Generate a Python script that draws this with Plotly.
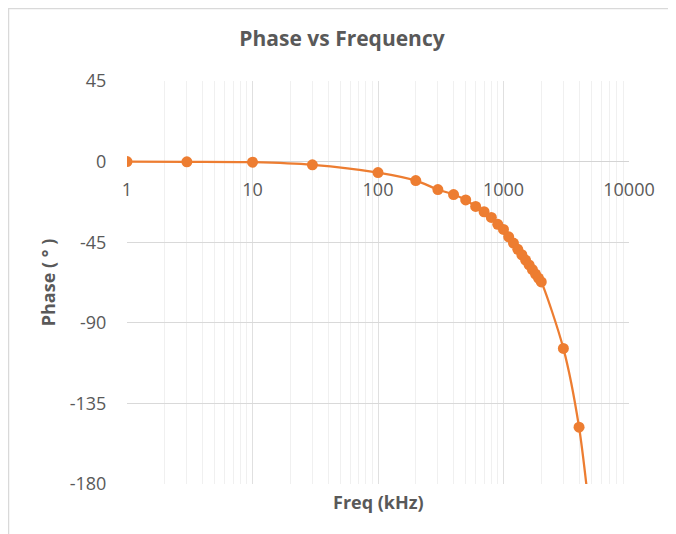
import plotly.graph_objects as go

freq_khz = [1, 3, 10, 30, 100, 200, 300, 400, 500, 600, 700, 800, 900, 1000,
            1100, 1200, 1300, 1400, 1500, 1600, 1700, 1800, 1900, 2000, 3000, 4000, 5000]
phase_deg = [0, -0.1, -0.3, -1.8, -6.1, -10.6, -15.6, -18.4, -21.4, -25.0, -28.0, -31.2,
             -35.0, -37.9, -42.0, -45.5, -49.0, -52.0, -55.0, -57.7, -60.3, -62.8, -65.0,
             -67.2, -104.3, -148.3, -205.0]
y_ticks = [-180, -135, -90, -45, 0, 45]
x_ticks = [1, 10, 100, 1000, 10000]

TXT = "#595959"
ORANGE = "#ED7D31"
FONT = "Open Sans"

W, H = 668, 526          # page body has an 8px margin
L, R, T, B = 119, 47, 73, 50
PW, PH = W - L - R, H - T - B

fig = go.Figure()
fig.add_trace(go.Scatter(
    x=freq_khz, y=phase_deg, mode="lines+markers",
    line=dict(color=ORANGE, width=2.25, shape="spline", smoothing=0.8),
    marker=dict(color=ORANGE, size=11),
    cliponaxis=True, showlegend=False,
))

fig.update_layout(
    width=W, height=H,
    margin=dict(l=L, r=R, t=T, b=B),
    paper_bgcolor="white", plot_bgcolor="white",
    font=dict(family=FONT, color=TXT),
    title=dict(text="<b>Phase vs Frequency</b>", x=334 / W, xanchor="center",
               y=1 - 31 / H, yanchor="middle", font=dict(size=21, color=TXT, family=FONT)),
    xaxis=dict(
        type="log", range=[0, 4], tickvals=x_ticks, ticktext=[str(v) for v in x_ticks],
        showgrid=True, gridcolor="#e0e0e0", gridwidth=1,
        minor=dict(dtick="D1", showgrid=True, gridcolor="#f0f0f0", gridwidth=1),
        anchor="free", position=180 / 225, showline=False, zeroline=False,
        ticks="outside", ticklen=12, tickcolor="rgba(0,0,0,0)",
        tickfont=dict(size=18, color=TXT, family=FONT),
    ),
    yaxis=dict(
        range=[-180, 45], tickvals=y_ticks, ticktext=[str(v) for v in y_ticks],
        showgrid=True, gridcolor="#d9d9d9", gridwidth=1,
        zeroline=True, zerolinecolor="#d4d4d4", zerolinewidth=1,
        showline=False, ticks="outside", ticklen=16, tickcolor="rgba(0,0,0,0)",
        tickfont=dict(size=18, color=TXT, family=FONT),
        title=dict(text="<b>Phase ( ° )</b>", standoff=9,
                   font=dict(size=18, color=TXT, family=FONT)),
    ),
    annotations=[dict(
        text="<b>Freq (kHz)</b>", xref="paper", yref="paper", x=0.5, y=-18 / PH,
        xanchor="center", yanchor="middle", showarrow=False,
        font=dict(size=18, color=TXT, family=FONT),
    )],
    shapes=[
        dict(type="line", xref="paper", yref="paper", x0=(0 - L) / PW, x1=(W - L) / PW,
             y0=(T + PH - 0.5) / PH, y1=(T + PH - 0.5) / PH, line=dict(color="#d9d9d9", width=1.5)),
        dict(type="line", xref="paper", yref="paper", x0=(0.5 - L) / PW, x1=(0.5 - L) / PW,
             y0=(T + PH) / PH, y1=-B / PH, line=dict(color="#d9d9d9", width=1.5)),
    ],
)

fig.write_html("out.html")
